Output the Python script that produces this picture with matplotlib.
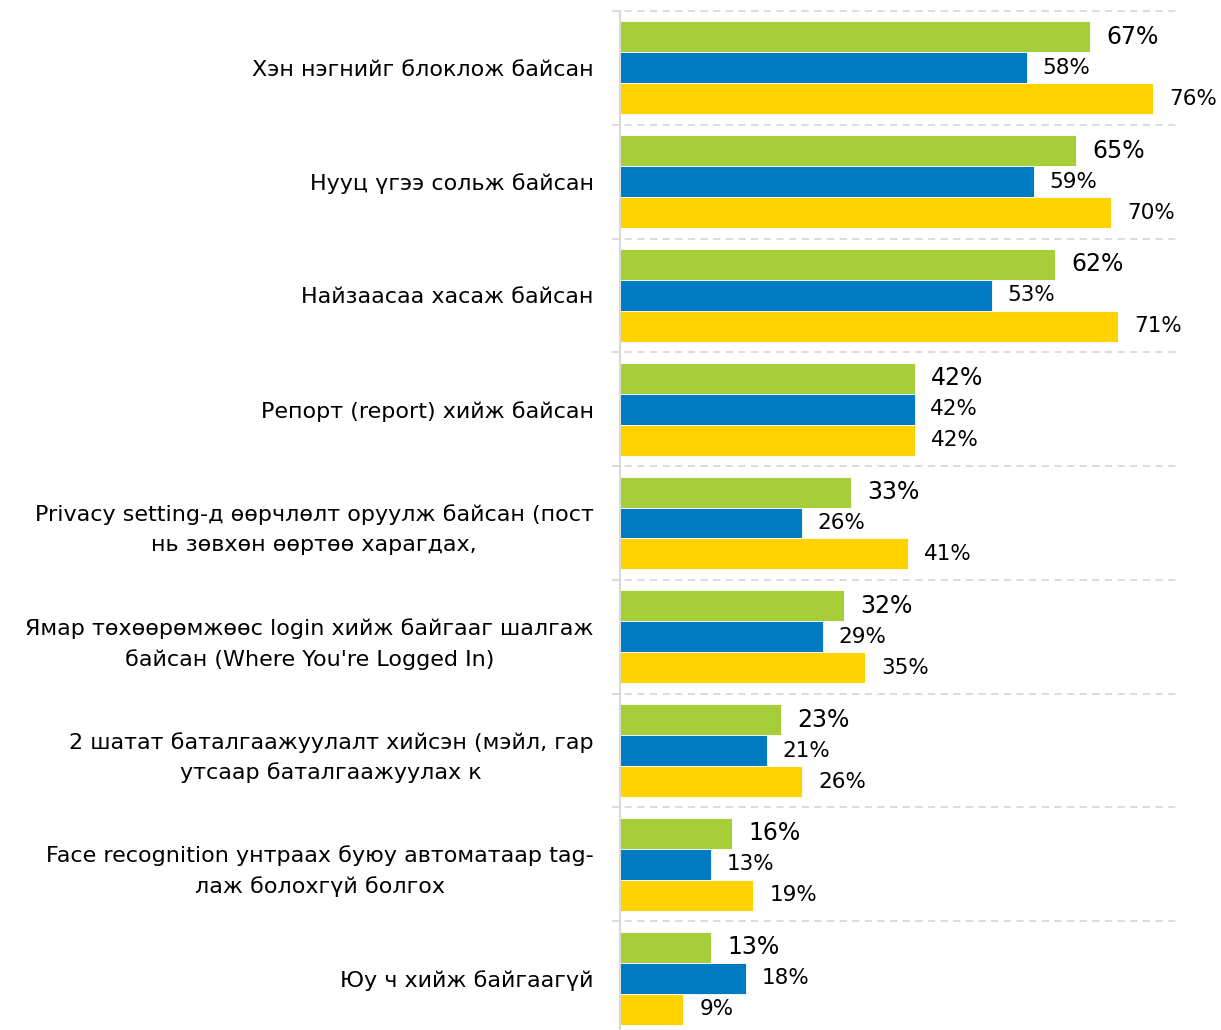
import matplotlib.pyplot as plt
import numpy as np

categories = [
    'Хэн нэгнийг блоклож байсан',
    'Нууц үгээ сольж байсан',
    'Найзаасаа хасаж байсан',
    'Репорт (report) хийж байсан',
    'Privacy setting-д өөрчлөлт оруулж байсан (пост\nнь зөвхөн өөртөө харагдах,',
    "Ямар төхөөрөмжөөс login хийж байгааг шалгаж\nбайсан (Where You're Logged In)",
    '2 шатат баталгаажуулалт хийсэн (мэйл, гар\nутсаар баталгаажуулах к',
    'Face recognition унтраах буюу автоматаар tag-\nлаж болохгүй болгох',
    'Юу ч хийж байгаагүй',
]
green = [67, 65, 62, 42, 33, 32, 23, 16, 13]
blue = [58, 59, 53, 42, 26, 29, 21, 13, 18]
yellow = [76, 70, 71, 42, 41, 35, 26, 19, 9]

c_green = '#A6CE39'
c_blue = '#007AC3'
c_yellow = '#FFD200'

fig = plt.figure(figsize=(12.21, 10.30), dpi=100)
ax = fig.add_axes([620/1221, -5/1030, (1181-620)/1221, 1024/1030])

n = len(categories)
y = np.arange(n)
h = 0.272
ax.barh(y - h, green, height=h, color=c_green, edgecolor='white', linewidth=0.6)
ax.barh(y, blue, height=h, color=c_blue, edgecolor='white', linewidth=0.6)
ax.barh(y + h, yellow, height=h, color=c_yellow, edgecolor='white', linewidth=0.6)

for i in range(n):
    ax.text(green[i] + 2.3, y[i] - h, f'{green[i]}%', va='center', ha='left', fontsize=17)
    ax.text(blue[i] + 2.2, y[i], f'{blue[i]}%', va='center', ha='left', fontsize=15.5)
    ax.text(yellow[i] + 2.3, y[i] + h, f'{yellow[i]}%', va='center', ha='left', fontsize=15.5)

ax.set_xlim(0, 80)
ax.set_ylim(n - 0.5, -0.5)

# dashed separators between groups
for b in np.arange(-0.5, n, 1.0):
    ax.plot([-1.2, 80], [b, b], color='#D9D9D9', lw=1.3, ls=(0, (4, 3)), clip_on=False, zorder=0)

for s in ['top', 'right', 'bottom']:
    ax.spines[s].set_visible(False)
ax.spines['left'].set_color('#D9D9D9')
ax.spines['left'].set_linewidth(1.5)
ax.set_xticks([])
ax.set_yticks(y)
ax.set_yticklabels(categories, fontsize=16, multialignment='center', linespacing=1.6)
ax.tick_params(axis='y', length=0, pad=19)

plt.savefig('out.png', dpi=100)
